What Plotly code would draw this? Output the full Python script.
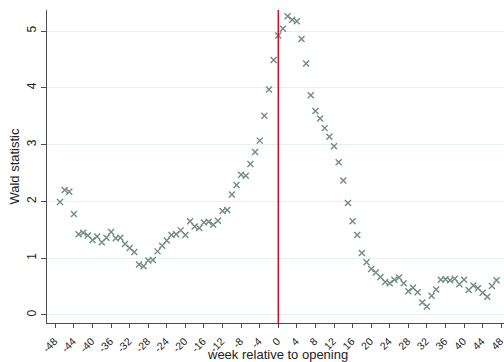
import plotly.graph_objects as go

# Weeks relative to opening and the Wald statistic for each week
weeks = list(range(-47, 48))
wald = [
    1.99, 2.20, 2.17, 1.78, 1.42, 1.45, 1.40, 1.32, 1.38, 1.28,   # -47 .. -38
    1.36, 1.46, 1.35, 1.36, 1.25, 1.18, 1.11, 0.89, 0.86, 0.96,   # -37 .. -28
    0.97, 1.12, 1.22, 1.31, 1.41, 1.42, 1.49, 1.41, 1.65, 1.56,   # -27 .. -18
    1.53, 1.63, 1.64, 1.59, 1.66, 1.83, 1.85, 2.12, 2.29, 2.47,   # -17 .. -8
    2.45, 2.66, 2.87, 3.07, 3.51, 3.97, 4.49, 4.92, 5.04, 5.26,   # -7 .. 2
    5.20, 5.17, 4.86, 4.43, 3.87, 3.59, 3.46, 3.29, 3.14, 2.97,   # 3 .. 12
    2.69, 2.37, 1.97, 1.65, 1.41, 1.09, 0.93, 0.81, 0.75, 0.67,   # 13 .. 22
    0.58, 0.56, 0.62, 0.66, 0.56, 0.42, 0.48, 0.40, 0.22, 0.15,   # 23 .. 32
    0.34, 0.45, 0.62, 0.63, 0.61, 0.64, 0.54, 0.62, 0.44, 0.52,   # 33 .. 42
    0.47, 0.39, 0.32, 0.51, 0.61,                                 # 43 .. 47
]

x_ticks = list(range(-48, 49, 4))
x_tick_text = [str(v) for v in x_ticks]  # plain hyphen minus signs
y_ticks = [0, 1, 2, 3, 4, 5]
opening_week = 0

axis_color = "#4a4a4a"
grid_color = "#e6eff1"
marker_color = "#6e8c82"
line_red = "#c8102e"
font_family = "Liberation Sans, Arial, Helvetica, sans-serif"

fig = go.Figure()
fig.add_trace(go.Scatter(
    x=weeks, y=wald, mode="markers",
    marker=dict(symbol="x-thin", size=6, color=marker_color,
                line=dict(color=marker_color, width=1.4)),
    hoverinfo="x+y", showlegend=False,
))

fig.add_shape(type="line", xref="x", yref="paper",
              x0=opening_week, x1=opening_week, y0=0, y1=1,
              line=dict(color=line_red, width=1.5), layer="above")

fig.update_layout(
    width=504, height=362,
    margin=dict(l=47, r=0, t=10, b=39, autoexpand=False),
    paper_bgcolor="white", plot_bgcolor="white",
    font=dict(family=font_family, color="#222222"),
    xaxis=dict(
        range=[-49.8, 48.6], tickvals=x_ticks, ticktext=x_tick_text,
        tickangle=-45, tickfont=dict(size=10.5, color="#222222"),
        ticklabeloverflow="allow", ticklabelstandoff=3, ticklabelshift=-1,
        showgrid=False, zeroline=False,
        showline=True, linecolor=axis_color, linewidth=1.2,
        ticks="outside", ticklen=4, tickwidth=1, tickcolor=axis_color,
        automargin=False,
    ),
    yaxis=dict(
        range=[-0.141, 5.37], tickvals=y_ticks,
        tickangle=-90, tickfont=dict(size=12, color="#222222"),
        showgrid=True, gridcolor=grid_color, gridwidth=1, zeroline=False,
        showline=True, linecolor=axis_color, linewidth=1.2,
        ticks="outside", ticklen=5, tickwidth=1, tickcolor=axis_color,
        automargin=False,
    ),
    annotations=[
        dict(text="Wald statistic", xref="paper", yref="paper",
             x=-0.072, y=0.5, textangle=-90, showarrow=False,
             xanchor="center", yanchor="middle",
             font=dict(size=13, color="#222222")),
        dict(text="week relative to opening", xref="paper", yref="paper",
             x=0.505, y=-0.1, showarrow=False,
             xanchor="center", yanchor="middle",
             font=dict(size=13, color="#222222")),
    ],
)

fig.write_html("out.html")
